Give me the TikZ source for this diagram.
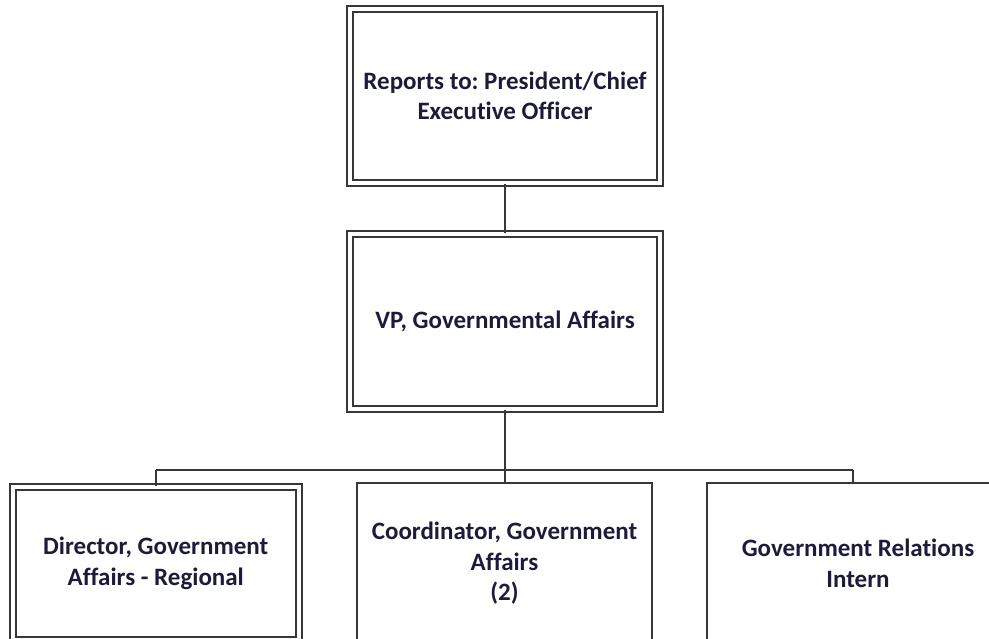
\documentclass[tikz,border=0pt]{standalone}
\usepackage{fontspec}
\setmainfont{Carlito}[Ligatures=NoCommon]
\frenchspacing
\definecolor{linec}{RGB}{55,55,55}
\definecolor{txtc}{RGB}{28,28,58}
\begin{document}
\begin{tikzpicture}[x=1pt,y=-1pt,
  box/.style={draw=linec, line width=2pt, inner sep=0pt, align=center,
    font=\fontsize{25}{30.5}\selectfont\bfseries, text=txtc},
  dbox/.style={box, double, double distance=4pt},
  conn/.style={draw=linec, line width=2pt}]
\clip (0,0) rectangle (989,639);
\fill[white] (0,0) rectangle (989,639);
\node[dbox, minimum width=310pt, minimum height=174.5pt] (top) at (505,96)
  {Reports to: President/Chief\\Executive Officer};
\node[dbox, minimum width=310pt, minimum height=175pt] (vp) at (505,321.5)
  {VP, Governmental Affairs};
\node[dbox, minimum width=286.5pt, minimum height=153pt] (dir) at (155.75,563.5)
  {Director, Government\\Affairs - Regional};
\node[box, minimum width=295pt, minimum height=161pt] (coord) at (504.5,563.5)
  {Coordinator, Government\\Affairs\\(2)};
\node[box, minimum width=302pt, minimum height=161pt] (intern) at (858,563.5)
  {Government Relations\\Intern};
\coordinate (bus) at (505,470);
\coordinate (busL) at (155.75,470);
\coordinate (busR) at (853,470);
\draw[conn] (top.south) -- (vp.north);
\draw[conn] (vp.south) -- (bus);
\draw[conn] (busL) -- (busR);
\draw[conn] (busL) -- (busL |- dir.north);
\draw[conn] (bus) -- (bus |- coord.north);
\draw[conn] (busR) -- (busR |- intern.north);
\end{tikzpicture}
\end{document}
